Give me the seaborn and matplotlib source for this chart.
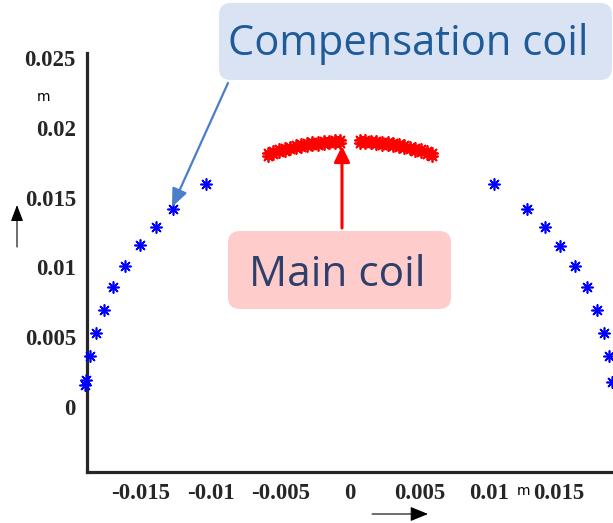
import numpy as np
import pandas as pd
import seaborn as sns
import matplotlib.pyplot as plt
from matplotlib.patches import FancyBboxPatch, FancyArrowPatch

# ---------------- data (metres) ----------------
comp_x_left = [-0.01036, -0.01273, -0.01395, -0.01507, -0.01615, -0.01699,
               -0.01768, -0.01823, -0.01867, -0.01895, -0.01900]
comp_y_left = [0.01597, 0.01416, 0.01289, 0.01160, 0.01012, 0.00862,
               0.00695, 0.00532, 0.00365, 0.00193, 0.00158]
comp_x_right = [0.01036, 0.01273, 0.01397, 0.01510, 0.01615, 0.01704,
                0.01773, 0.01823, 0.01860, 0.01878]
comp_y_right = [0.01597, 0.01416, 0.01289, 0.01156, 0.01012, 0.00862,
                0.00695, 0.00532, 0.00365, 0.00180]

main_x_left = [-0.0059, -0.0055, -0.0051, -0.0047, -0.0043, -0.0039, -0.0035,
               -0.0031, -0.0027, -0.0023, -0.0019, -0.0015, -0.0011, -0.0007]
main_y_left_inner = [0.018008, 0.018134, 0.018251, 0.018358, 0.018456, 0.018544,
                     0.018624, 0.018695, 0.018757, 0.018810, 0.018854, 0.018890,
                     0.018918, 0.018937]
main_y_left_outer = [0.018218, 0.018343, 0.018458, 0.018564, 0.018661, 0.018749,
                     0.018827, 0.018897, 0.018959, 0.019011, 0.019055, 0.019091,
                     0.019118, 0.019137]
main_x_right = [0.0007, 0.0011, 0.0015, 0.0019, 0.0023, 0.0027, 0.0031,
                0.0035, 0.0039, 0.0043, 0.0047, 0.0051, 0.0055, 0.0059]
main_y_right_inner = main_y_left_inner[::-1]
main_y_right_outer = main_y_left_outer[::-1]

x_ticks = [-0.015, -0.01, -0.005, 0, 0.005, 0.01, 0.015]
x_tick_labels = ['-0.015', '-0.01', '-0.005', '0', '0.005', '0.01', '0.015']
y_ticks = [0, 0.005, 0.01, 0.015, 0.02, 0.025]
y_tick_labels = ['0', '0.005', '0.01', '0.015', '0.02', '0.025']

comp_df = pd.DataFrame({'x': comp_x_left + comp_x_right,
                        'y': comp_y_left + comp_y_right})
main_df = pd.DataFrame({
    'x': main_x_left * 2 + main_x_right * 2,
    'y': main_y_left_inner + main_y_left_outer + main_y_right_inner + main_y_right_outer})

# ---------------- figure ----------------
sns.set_style("white")
W, H = 613, 523
fig = plt.figure(figsize=(W / 100, H / 100), dpi=100)
ax = fig.add_axes([87 / W, 51 / H, 526 / W, 419 / H])

ast = (8, 2, 0)
sns.scatterplot(data=comp_df, x='x', y='y', marker=ast, color='#0000ff', s=64,
                linewidth=1.2, ax=ax, legend=False, clip_on=False, zorder=3)
sns.scatterplot(data=main_df, x='x', y='y', marker=ast, color='#ff0000', s=64,
                linewidth=1.3, ax=ax, legend=False, clip_on=False, zorder=3)

ax.set_xlim(-0.01888, 0.01888)
ax.set_ylim(-0.00466, 0.02537)
ax.set_xlabel('')
ax.set_ylabel('')
ax.set_xticks(x_ticks)
ax.set_xticklabels(x_tick_labels)
ax.set_yticks(y_ticks)
ax.set_yticklabels(y_tick_labels)

for s in ['top', 'right']:
    ax.spines[s].set_visible(False)
for s in ['left', 'bottom']:
    ax.spines[s].set_linewidth(2.3)
    ax.spines[s].set_color('#262626')
ax.tick_params(direction='in', length=4.5, width=2.3, color='#262626',
               labelcolor='#262626', pad=8)
for lab in ax.get_xticklabels() + ax.get_yticklabels():
    lab.set_fontfamily('Liberation Serif')
    lab.set_fontweight('bold')
    lab.set_fontsize(16.5)

# ---------------- annotations (pixel coords from top-left) ----------------
T = fig.dpi_scale_trans
def P(x, y):
    return (x / 100, (H - y) / 100)

# boxes
fig.patches.append(FancyBboxPatch(P(219, 80), 3.93, 0.77,
                                  boxstyle='round,pad=0,rounding_size=0.12',
                                  transform=T, fc='#dae3f3', ec='none', zorder=5))
fig.patches.append(FancyBboxPatch(P(228, 309), 2.23, 0.78,
                                  boxstyle='round,pad=0,rounding_size=0.12',
                                  transform=T, fc='#ffcccc', ec='none', zorder=5))
fig.text(*P(408, 55), 'Compensation coil', transform=T, ha='center', va='baseline',
         fontfamily='Open Sans', fontsize=30, color='#1f5b99', zorder=6)
fig.text(*P(337, 286), 'Main coil', transform=T, ha='center', va='baseline',
         fontfamily='Open Sans', fontsize=30.5, color='#2e3f6b', zorder=6)

# arrows
def arrow(p0, p1, color, lw, hl, hw):
    a = FancyArrowPatch(P(*p0), P(*p1), transform=T,
                        arrowstyle=f'-|>,head_length={hl},head_width={hw}',
                        mutation_scale=1, color=color, lw=lw,
                        shrinkA=0, shrinkB=0, zorder=7)
    fig.patches.append(a)

arrow((228, 83), (172, 207), '#4a7ec9', 1.6, 11, 4.7)
arrow((342, 228), (342, 146), '#ff0000', 2.2, 9.5, 4.7)
arrow((17, 247), (17, 205), 'black', 0.8, 10, 3.8)
arrow((372, 514), (428, 514), 'black', 0.8, 11, 4.5)

fig.text(*P(43, 97), 'm', transform=T, ha='center', va='center',
         fontfamily='DejaVu Sans', fontsize=10, color='black')
fig.text(*P(524, 491), 'm', transform=T, ha='center', va='center',
         fontfamily='DejaVu Sans', fontsize=10, color='black')

fig.savefig('out.png', dpi=100)
